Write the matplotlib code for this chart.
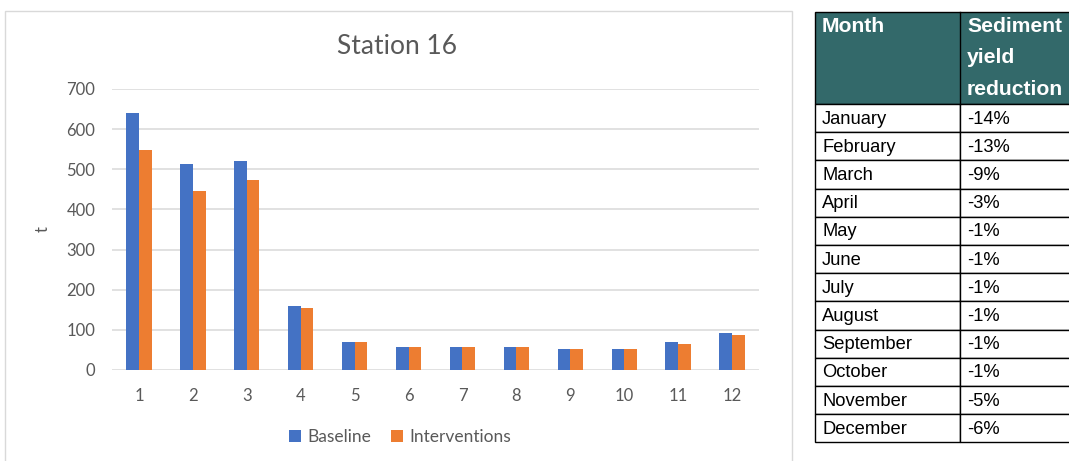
import numpy as np
import matplotlib.pyplot as plt
from matplotlib.patches import Rectangle

plt.rcParams['font.family'] = ['Lato', 'DejaVu Sans']

# monthly sediment yield (t) at station 16
months = [1, 2, 3, 4, 5, 6, 7, 8, 9, 10, 11, 12]
baseline = [639, 512, 520, 160, 70, 57, 57, 57, 53, 53, 69, 92]
interventions = [548, 446, 473, 155, 70, 57, 57, 57, 53, 53, 65, 87]

# reduction table
month_names = ['January', 'February', 'March', 'April', 'May', 'June', 'July',
               'August', 'September', 'October', 'November', 'December']
reductions = ['-14%', '-13%', '-9%', '-3%', '-1%', '-1%', '-1%', '-1%',
              '-1%', '-1%', '-5%', '-6%']
header = ['Month', 'Sediment\nyield\nreduction']

blue = '#4472C4'
orange = '#ED7D31'
grey_txt = '#595959'
W, H = 1069, 461

fig = plt.figure(figsize=(W / 100, H / 100), dpi=100)

# frame around the chart
fig.patches.append(Rectangle((5 / W, -0.1), 787 / W, 1.1 - 11 / H,
                             transform=fig.transFigure, fill=False,
                             edgecolor='#D9D9D9', linewidth=1.0))
fig.text(397 / W, 1 - 46 / H, 'Station 16', ha='center', va='center',
         fontsize=19, color=grey_txt)

ax = fig.add_axes([112 / W, 1 - 370 / H, 647 / W, 281 / H])
x = np.array(months)
bw = 0.235
ax.bar(x - bw / 2, baseline, bw, color=blue, label='Baseline', zorder=3)
ax.bar(x + bw / 2, interventions, bw, color=orange, label='Interventions', zorder=3)

ax.set_xlim(0.5, 12.5)
ax.set_ylim(0, 700)
ax.set_yticks(range(0, 701, 100))
ax.set_xticks(months)
ax.grid(axis='y', color='#D9D9D9', linewidth=1.1)
ax.set_axisbelow(True)
for s in ax.spines.values():
    s.set_visible(False)
ax.tick_params(axis='both', length=0, labelsize=12, labelcolor=grey_txt)
ax.tick_params(axis='x', pad=13)
ax.tick_params(axis='y', pad=12)
ax.set_ylabel('t', fontsize=12, color=grey_txt, labelpad=11)

fig.legend(*ax.get_legend_handles_labels(), loc='center',
           bbox_to_anchor=(400 / W, 1 - 437 / H), ncol=2, frameon=False,
           fontsize=12.5, labelcolor=grey_txt, handlelength=0.7,
           handleheight=0.7, handletextpad=0.4, columnspacing=1.1)

# table drawn in pixel coordinates
tab = fig.add_axes([0, 0, 1, 1])
tab.set_xlim(0, W)
tab.set_ylim(H, 0)
tab.axis('off')

x0, x1, x2 = 815, 960, 1080
top, head_h, row_h = 12, 92, 28.2
teal = '#33696A'

tab.add_patch(Rectangle((x0, top), x2 - x0, head_h, facecolor=teal,
                        edgecolor='black', linewidth=1.0))
tab.plot([x1, x1], [top, top + head_h], color='black', lw=1.0)
tab.text(x0 + 7, top + 5, header[0], ha='left', va='top', fontsize=15.2,
         fontweight='bold', color='white', family='Liberation Sans')
tab.text(x1 + 7, top + 5, header[1], ha='left', va='top', fontsize=15.2,
         fontweight='bold', color='white', family='Liberation Sans',
         linespacing=1.82)

for i, (m, r) in enumerate(zip(month_names, reductions)):
    y = top + head_h + i * row_h
    tab.add_patch(Rectangle((x0, y), x1 - x0, row_h, facecolor='white',
                            edgecolor='black', linewidth=1.0))
    tab.add_patch(Rectangle((x1, y), x2 - x1, row_h, facecolor='white',
                            edgecolor='black', linewidth=1.0))
    tab.text(x0 + 7, y + row_h / 2 + 1, m, ha='left', va='center',
             fontsize=13.2, color='black', family='Liberation Sans')
    tab.text(x1 + 7, y + row_h / 2 + 1, r, ha='left', va='center',
             fontsize=13.2, color='black', family='Liberation Sans')

fig.savefig('out.png', dpi=100)
